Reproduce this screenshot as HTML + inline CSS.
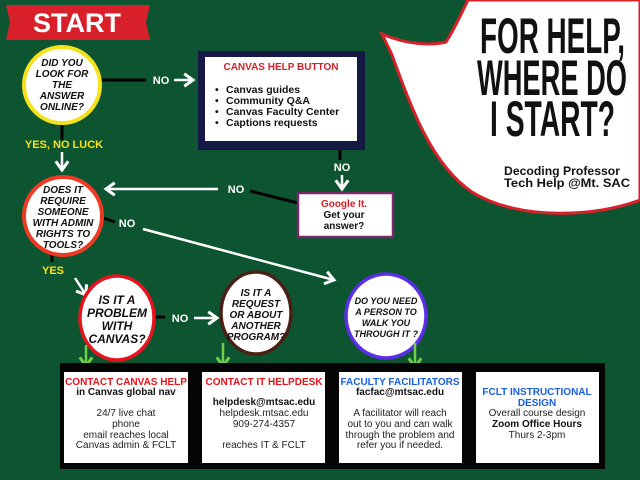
<!DOCTYPE html>
<html><head><meta charset="utf-8"><style>
html,body{margin:0;padding:0;background:#0d5530}
svg{display:block}
text{font-family:"Liberation Sans",sans-serif}
.q{font-weight:bold;font-style:italic;font-size:10px;fill:#111;text-anchor:middle}
.no{font-weight:bold;font-size:11px;fill:#fff;text-anchor:middle}
.bt{font-size:10px;fill:#222;text-anchor:middle}
.bb{font-size:10px;font-weight:bold;fill:#111;text-anchor:middle}
</style></head><body>
<svg width="640" height="480" viewBox="0 0 640 480" xmlns="http://www.w3.org/2000/svg">
<defs>
<marker id="wa" markerWidth="6" markerHeight="6" refX="4" refY="3" orient="auto" markerUnits="strokeWidth"><path d="M0.5,0.5 L4,3 L0.5,5.5" fill="none" stroke="#fff" stroke-width="1.2"/></marker>
<marker id="ga" markerWidth="6" markerHeight="6" refX="4" refY="3" orient="auto" markerUnits="strokeWidth"><path d="M0.5,0.5 L4,3 L0.5,5.5" fill="none" stroke="#6fcf4a" stroke-width="1.2"/></marker>
</defs>
<rect width="640" height="480" fill="#0d5530"/>
<path d="M468,0 L640,0 L640,200 C600,216 520,222 472,192 C432,165 412,110 392,55 L382,34 C405,44 430,46 446,42 C455,28 462,12 468,0 Z" fill="#fff" stroke="#d8202b" stroke-width="3"/>
<g font-family="'Liberation Sans Narrow','Liberation Sans',sans-serif" font-weight="bold" font-size="50" fill="#111">
<text x="480" y="53" textLength="145" lengthAdjust="spacingAndGlyphs">FOR HELP,</text>
<text x="477" y="95" textLength="150" lengthAdjust="spacingAndGlyphs">WHERE DO</text>
<text x="490" y="136" textLength="125" lengthAdjust="spacingAndGlyphs">I START?</text>
</g>
<text x="504" y="175" font-size="11.5" font-weight="bold" fill="#111" textLength="116" lengthAdjust="spacingAndGlyphs">Decoding Professor</text>
<text x="504" y="187" font-size="11.5" font-weight="bold" fill="#111" textLength="126" lengthAdjust="spacingAndGlyphs">Tech Help @Mt. SAC</text>
<path d="M6,5 L150,5 L146,22 L150,40 L6,40 L10,22 Z" fill="#d8202b"/>
<text x="77" y="32" font-size="27" font-weight="bold" fill="#fff" text-anchor="middle">START</text>
<line x1="100" y1="80" x2="146" y2="80" stroke="#000" stroke-width="3"/>
<text x="161" y="84" class="no">NO</text>
<line x1="174" y1="80" x2="193" y2="80" stroke="#fff" stroke-width="2.5" marker-end="url(#wa)"/>
<line x1="62" y1="124" x2="62" y2="140" stroke="#000" stroke-width="3"/>
<text x="64" y="148" font-size="11" font-weight="bold" fill="#f5e21a" text-anchor="middle">YES, NO LUCK</text>
<line x1="62" y1="152" x2="62" y2="170" stroke="#fff" stroke-width="2.5" marker-end="url(#wa)"/>
<line x1="340" y1="150" x2="340" y2="160" stroke="#000" stroke-width="3"/>
<text x="342" y="171" class="no">NO</text>
<line x1="342" y1="175" x2="342" y2="189" stroke="#fff" stroke-width="2.5" marker-end="url(#wa)"/>
<line x1="250" y1="191" x2="298" y2="203" stroke="#000" stroke-width="3"/>
<text x="236" y="193" class="no">NO</text>
<line x1="218" y1="189" x2="106" y2="189" stroke="#fff" stroke-width="2.5" marker-end="url(#wa)"/>
<line x1="103" y1="218" x2="115" y2="222" stroke="#000" stroke-width="3"/>
<text x="127" y="227" class="no">NO</text>
<line x1="143" y1="229" x2="334" y2="280" stroke="#fff" stroke-width="2.5" marker-end="url(#wa)"/>
<line x1="52" y1="255" x2="52" y2="262" stroke="#000" stroke-width="3"/>
<text x="53" y="274" font-size="11" font-weight="bold" fill="#f5e21a" text-anchor="middle">YES</text>
<line x1="75" y1="278" x2="86" y2="295" stroke="#fff" stroke-width="2.5" marker-end="url(#wa)"/>
<line x1="155" y1="317" x2="165" y2="317" stroke="#000" stroke-width="3"/>
<text x="180" y="322" class="no">NO</text>
<line x1="194" y1="318" x2="217" y2="318" stroke="#fff" stroke-width="2.5" marker-end="url(#wa)"/>
<rect x="198" y="51" width="167" height="99" fill="#141a45"/>
<rect x="205" y="57" width="152" height="84" fill="#fff"/>
<text x="281" y="70" font-size="10" font-weight="bold" fill="#d8202b" text-anchor="middle">CANVAS HELP BUTTON</text>
<g font-size="10.5" font-weight="bold" fill="#111">
<text x="215" y="93">•</text><text x="226" y="93">Canvas guides</text>
<text x="215" y="104">•</text><text x="226" y="104">Community Q&amp;A</text>
<text x="215" y="115">•</text><text x="226" y="115">Canvas Faculty Center</text>
<text x="215" y="126">•</text><text x="226" y="126">Captions requests</text>
</g>
<rect x="298" y="193" width="95" height="44" fill="#fff" stroke="#7a2a6a" stroke-width="2.5"/>
<text x="344" y="207" font-size="10" font-weight="bold" fill="#d8202b" text-anchor="middle">Google It.</text>
<text x="344" y="218" font-size="10" font-weight="bold" fill="#111" text-anchor="middle">Get your</text>
<text x="344" y="229" font-size="10" font-weight="bold" fill="#111" text-anchor="middle">answer?</text>
<circle cx="62" cy="85" r="38" fill="#fff" stroke="#f5e21a" stroke-width="4"/>
<text class="q" x="62" y="66">DID YOU</text><text class="q" x="62" y="77">LOOK FOR</text><text class="q" x="62" y="88">THE</text><text class="q" x="62" y="99">ANSWER</text><text class="q" x="62" y="110">ONLINE?</text>
<circle cx="63" cy="216" r="39" fill="#fff" stroke="#ee3a24" stroke-width="4"/>
<text class="q" x="63" y="193">DOES IT</text><text class="q" x="63" y="204">REQUIRE</text><text class="q" x="63" y="215">SOMEONE</text><text class="q" x="63" y="226">WITH ADMIN</text><text class="q" x="63" y="237">RIGHTS TO</text><text class="q" x="63" y="248">TOOLS?</text>
<ellipse cx="117" cy="318" rx="37" ry="42" fill="#fff" stroke="#e8121c" stroke-width="3.5"/>
<text class="q" style="font-size:12px" x="117" y="304">IS IT A</text><text class="q" style="font-size:12px" x="117" y="317">PROBLEM</text><text class="q" style="font-size:12px" x="117" y="330">WITH</text><text class="q" style="font-size:12px" x="117" y="343">CANVAS?</text>
<ellipse cx="256" cy="313" rx="35" ry="41" fill="#fff" stroke="#4a2015" stroke-width="3.5"/>
<text class="q" x="256" y="296">IS IT A</text><text class="q" x="256" y="307">REQUEST</text><text class="q" x="256" y="318">OR ABOUT</text><text class="q" x="256" y="329">ANOTHER</text><text class="q" x="256" y="340">PROGRAM?</text>
<ellipse cx="386" cy="316" rx="40" ry="42" fill="#fff" stroke="#5b2ee8" stroke-width="3.5"/>
<text class="q" style="font-size:9px" x="386" y="304">DO YOU NEED</text><text class="q" style="font-size:9px" x="386" y="315">A PERSON TO</text><text class="q" style="font-size:9px" x="386" y="326">WALK YOU</text><text class="q" style="font-size:9px" x="386" y="337">THROUGH IT ?</text>
<line x1="86" y1="345" x2="86" y2="366" stroke="#6fcf4a" stroke-width="2.5" marker-end="url(#ga)"/>
<line x1="223" y1="343" x2="223" y2="366" stroke="#6fcf4a" stroke-width="2.5" marker-end="url(#ga)"/>
<line x1="415" y1="343" x2="415" y2="367" stroke="#6fcf4a" stroke-width="2.5" marker-end="url(#ga)"/>
<rect x="60" y="363" width="545" height="106" fill="#050505"/>
<rect x="64" y="372" width="124" height="91" fill="#fff"/>
<rect x="202" y="372" width="123" height="91" fill="#fff"/>
<rect x="339" y="372" width="123" height="91" fill="#fff"/>
<rect x="476" y="372" width="123" height="91" fill="#fff"/>
<text x="126" y="385" font-size="10" font-weight="bold" fill="#e8121c" text-anchor="middle">CONTACT CANVAS HELP</text>
<text x="126" y="395" class="bb">in Canvas global nav</text>
<text x="126" y="416" class="bt">24/7 live chat</text><text x="126" y="427" class="bt">phone</text><text x="126" y="438" class="bt">email reaches local</text><text x="126" y="448" class="bt">Canvas admin &amp; FCLT</text>
<text x="264" y="385" font-size="10" font-weight="bold" fill="#e8121c" text-anchor="middle">CONTACT IT HELPDESK</text>
<text x="264" y="405" class="bb">helpdesk@mtsac.edu</text><text x="264" y="416" class="bt">helpdesk.mtsac.edu</text><text x="264" y="427" class="bt">909-274-4357</text><text x="264" y="448" class="bt">reaches IT &amp; FCLT</text>
<text x="400" y="385" font-size="10" font-weight="bold" fill="#1a5fe0" text-anchor="middle">FACULTY FACILITATORS</text>
<text x="400" y="395" class="bb">facfac@mtsac.edu</text>
<text x="400" y="416" class="bt">A facilitator will reach</text><text x="400" y="427" class="bt">out to you and can walk</text><text x="400" y="438" class="bt">through the problem and</text><text x="400" y="448" class="bt">refer you if needed.</text>
<text x="537" y="395" font-size="10" font-weight="bold" fill="#1a5fe0" text-anchor="middle">FCLT INSTRUCTIONAL</text>
<text x="537" y="406" font-size="10" font-weight="bold" fill="#1a5fe0" text-anchor="middle">DESIGN</text>
<text x="537" y="416" class="bt">Overall course design</text><text x="537" y="427" class="bb">Zoom Office Hours</text><text x="537" y="438" class="bt">Thurs 2-3pm</text>
</svg>
</body></html>
